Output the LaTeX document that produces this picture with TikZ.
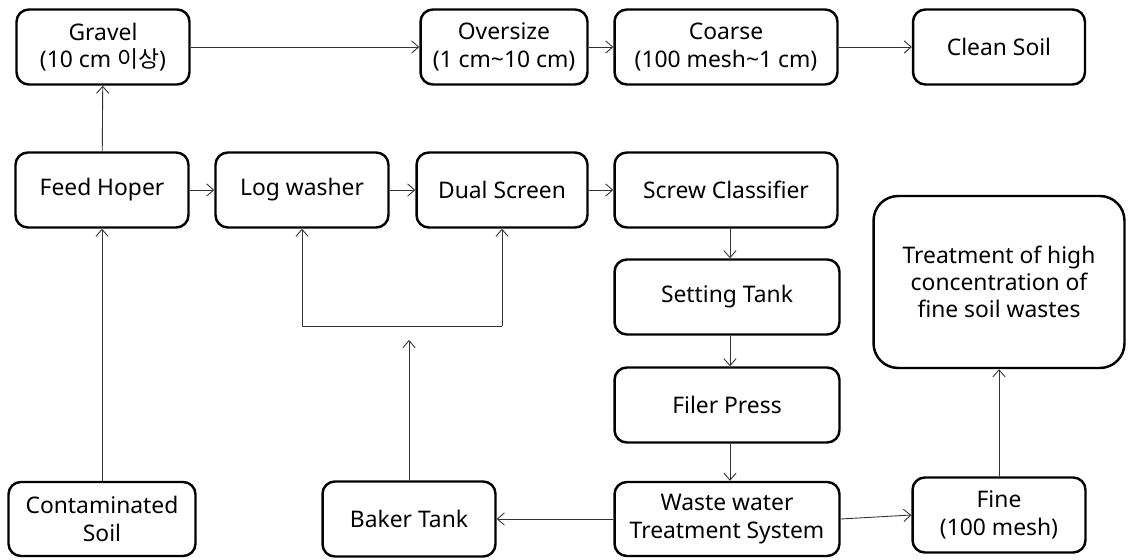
\documentclass[tikz,border=0pt]{standalone}
\usepackage{fontspec}
\setmainfont{Noto Sans}
\newfontfamily\kr{Noto Sans CJK KR}
\usetikzlibrary{arrows.meta}
\tikzset{
  box/.style = {draw, line width=1.4pt, rounded corners=7pt, align=center,
                minimum width=3.46cm, minimum height=1.5cm, inner sep=2pt,
                font=\fontsize{13}{15.5}\selectfont},
  line/.style = {draw=black!80, line width=0.5pt, -{Straight Barb[length=4pt,width=7pt]}}
}
\begin{document}
\begin{tikzpicture}[x=0.02cm, y=-0.02cm]
  \useasboundingbox (0,0) rectangle (1129,560);
  % top row
  \node[box] (gravel) at (103,47) {Gravel\\(10 cm {\kr 이상})};
  \node[box, minimum width=3.34cm] (oversize) at (504,47) {Oversize\\(1 cm\textasciitilde 10 cm)};
  \node[box, minimum width=4.46cm] (coarse) at (726,47) {Coarse\\(100 mesh\textasciitilde 1 cm)};
  \node[box, minimum width=3.44cm] (clean) at (999,47) {Clean Soil};
  % middle row
  \node[box] (feed) at (102,190) {Feed Hoper};
  \node[box] (log) at (302,190) {Log washer};
  \node[box, minimum width=3.42cm] (dual) at (502,190) {Dual Screen};
  \node[box, minimum width=4.46cm] (screw) at (726,190) {Screw Classifier};
  \node[box, minimum width=4.5cm] (setting) at (727,297) {Setting Tank};
  \node[box, minimum width=4.5cm] (filer) at (727,405) {Filer Press};
  \node[box, minimum width=5.02cm, minimum height=3.44cm, rounded corners=14pt] (treat) at (999,282) {Treatment of high\\concentration of\\fine soil wastes};
  % bottom row
  \node[box, minimum width=3.74cm, minimum height=1.48cm] (soil) at (102,519) {Contaminated\\Soil};
  \node[box] (baker) at (409,519) {Baker Tank};
  \node[box, minimum width=4.5cm, minimum height=1.48cm] (waste) at (727,519) {Waste water\\Treatment System};
  \node[box] (fine) at (999,515) {Fine\\(100 mesh)};
  % connectors
  \draw[line] (gravel) -- (oversize);
  \draw[line] (oversize) -- (coarse);
  \draw[line] (coarse) -- (clean);
  \draw[line] (soil) -- (feed);
  \draw[line] (feed) -- (gravel);
  \draw[line] (feed) -- (log);
  \draw[line] (log) -- (dual);
  \draw[line] (dual) -- (screw);
  \draw[line] (screw.south -| 730,0) -- (setting.north -| 730,0);
  \draw[line] (setting.south -| 730,0) -- (filer.north -| 730,0);
  \draw[line] (filer.south -| 730,0) -- (waste.north -| 730,0);
  \draw[line] (waste) -- (baker);
  \draw[line] (waste.east) -- (fine.west);
  \draw[line] (fine) -- (treat);
  % return loop from the baker tank
  \coordinate (ret) at (409,340);
  \coordinate (loop) at (402,326);
  \draw[line] (baker) -- (ret);
  \draw[draw=black!80, line width=0.5pt] (log.south |- loop) -- (dual.south |- loop);
  \draw[line] (log.south |- loop) -- (log.south);
  \draw[line] (dual.south |- loop) -- (dual.south);
\end{tikzpicture}
\end{document}
